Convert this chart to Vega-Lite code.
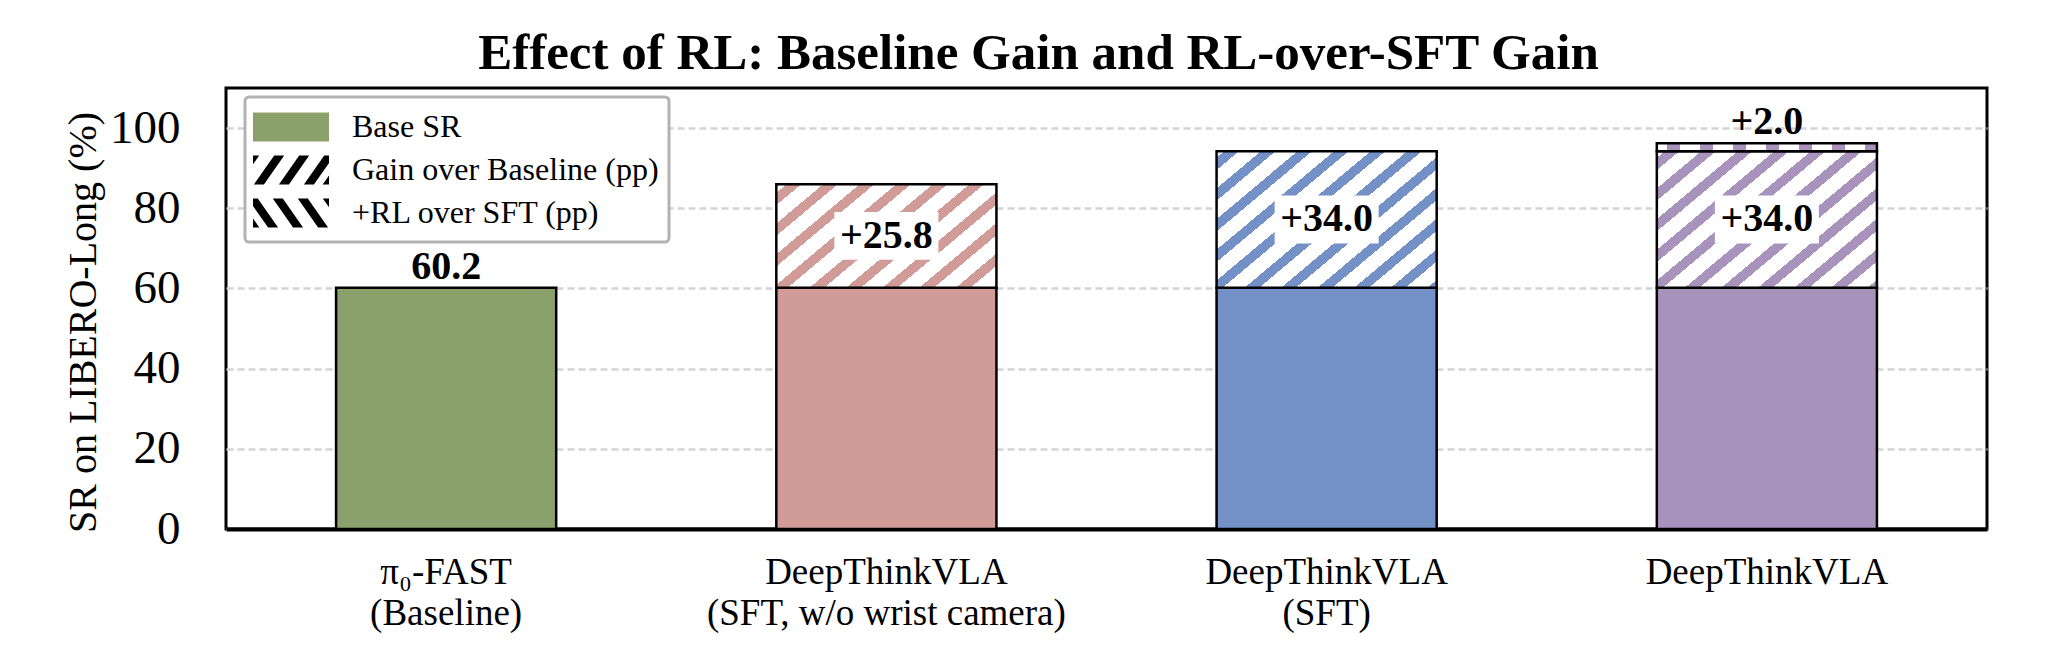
{
  "$schema": "https://vega.github.io/schema/vega-lite/v6.json",
  "autosize": {"type": "none"},
  "padding": {"left": 226, "top": 88, "right": 61, "bottom": 129},
  "width": 1761,
  "height": 441,
  "background": "white",
  "title": {
    "text": "Effect of RL: Baseline Gain and RL-over-SFT Gain",
    "font": "Liberation Serif",
    "fontSize": 51,
    "fontWeight": "bold",
    "color": "black",
    "anchor": "middle",
    "frame": "group",
    "dx": -68,
    "offset": 8
  },
  "data": {
    "values": [
      {"model": "π₀-FAST (Baseline)", "segment": "Base SR", "start": 0, "end": 60.2, "label": "60.2"},
      {"model": "DeepThinkVLA (SFT, w/o wrist camera)", "segment": "Base SR", "start": 0, "end": 60.2},
      {"model": "DeepThinkVLA (SFT, w/o wrist camera)", "segment": "Gain over Baseline (pp)", "start": 60.2, "end": 86.0, "label": "+25.8"},
      {"model": "DeepThinkVLA (SFT)", "segment": "Base SR", "start": 0, "end": 60.2},
      {"model": "DeepThinkVLA (SFT)", "segment": "Gain over Baseline (pp)", "start": 60.2, "end": 94.2, "label": "+34.0"},
      {"model": "DeepThinkVLA", "segment": "Base SR", "start": 0, "end": 60.2},
      {"model": "DeepThinkVLA", "segment": "Gain over Baseline (pp)", "start": 60.2, "end": 94.2, "label": "+34.0"},
      {"model": "DeepThinkVLA", "segment": "+RL over SFT (pp)", "start": 94.2, "end": 96.2, "label": "+2.0"}
    ]
  },
  "encoding": {
    "x": {
      "field": "model",
      "type": "nominal",
      "title": null,
      "sort": ["π₀-FAST (Baseline)", "DeepThinkVLA (SFT, w/o wrist camera)", "DeepThinkVLA (SFT)", "DeepThinkVLA"],
      "scale": {"paddingInner": 0.5, "paddingOuter": 0.25},
      "axis": {
        "labelExpr": "datum.value == 'π₀-FAST (Baseline)' ? ['π₀-FAST', '(Baseline)'] : datum.value == 'DeepThinkVLA (SFT, w/o wrist camera)' ? ['DeepThinkVLA', '(SFT, w/o wrist camera)'] : datum.value == 'DeepThinkVLA (SFT)' ? ['DeepThinkVLA', '(SFT)'] : datum.label",
        "labelAngle": 0,
        "labelFont": "Liberation Serif",
        "labelFontSize": 37,
        "labelColor": "black",
        "labelPadding": 25,
        "labelLineHeight": 41,
        "labelLimit": 0,
        "ticks": false,
        "tickSize": 0,
        "domainColor": "black",
        "domainWidth": 4,
        "grid": false
      }
    }
  },
  "layer": [
    {
      "transform": [{"filter": "datum.segment == 'Base SR'"}],
      "mark": {"type": "bar", "stroke": "black", "strokeWidth": 2.5},
      "encoding": {
        "y": {
          "field": "start",
          "type": "quantitative",
          "title": "SR on LIBERO-Long (%)",
          "scale": {"domain": [0, 110], "nice": false},
          "axis": {
            "values": [0, 20, 40, 60, 80, 100],
            "grid": true,
            "gridColor": "#d4d4d4",
            "gridDash": [7, 4],
            "gridWidth": 2.5,
            "domain": false,
            "ticks": false,
            "tickSize": 0,
            "labelFont": "Liberation Serif",
            "labelFontSize": 47,
            "labelColor": "black",
            "labelPadding": 46,
            "titleFont": "Liberation Serif",
            "titleFontSize": 40,
            "titleFontWeight": "normal",
            "titleColor": "black",
            "titleX": -131,
            "titleY": 234,
            "titleAngle": -90,
            "titleAlign": "center",
            "titleBaseline": "alphabetic"
          }
        },
        "y2": {"field": "end"},
        "color": {
          "field": "model",
          "type": "nominal",
          "scale": {
            "domain": ["π₀-FAST (Baseline)", "DeepThinkVLA (SFT, w/o wrist camera)", "DeepThinkVLA (SFT)", "DeepThinkVLA"],
            "range": ["#8BA16C", "#D19C98", "#7391C7", "#A893BC"]
          },
          "legend": null
        }
      }
    },
    {
      "transform": [{"filter": "datum.segment == 'Gain over Baseline (pp)' && datum.model == 'DeepThinkVLA (SFT, w/o wrist camera)'"}],
      "mark": {
        "type": "bar",
        "stroke": "black",
        "strokeWidth": 2.5,
        "fill": {
          "gradient": "linear", "x1": 0, "y1": 0, "x2": 1.1875, "y2": 0.6649,
          "stops": [
            {"offset": 0, "color": "white"}, {"offset": 0.03, "color": "white"}, {"offset": 0.03, "color": "#D19C98"}, {"offset": 0.0726, "color": "#D19C98"}, {"offset": 0.0726, "color": "white"},
            {"offset": 0.1365, "color": "white"}, {"offset": 0.1365, "color": "#D19C98"}, {"offset": 0.1791, "color": "#D19C98"}, {"offset": 0.1791, "color": "white"},
            {"offset": 0.2430, "color": "white"}, {"offset": 0.2430, "color": "#D19C98"}, {"offset": 0.2856, "color": "#D19C98"}, {"offset": 0.2856, "color": "white"},
            {"offset": 0.3494, "color": "white"}, {"offset": 0.3494, "color": "#D19C98"}, {"offset": 0.3920, "color": "#D19C98"}, {"offset": 0.3920, "color": "white"},
            {"offset": 0.4559, "color": "white"}, {"offset": 0.4559, "color": "#D19C98"}, {"offset": 0.4985, "color": "#D19C98"}, {"offset": 0.4985, "color": "white"},
            {"offset": 0.5624, "color": "white"}, {"offset": 0.5624, "color": "#D19C98"}, {"offset": 0.6050, "color": "#D19C98"}, {"offset": 0.6050, "color": "white"},
            {"offset": 0.6689, "color": "white"}, {"offset": 0.6689, "color": "#D19C98"}, {"offset": 0.7115, "color": "#D19C98"}, {"offset": 0.7115, "color": "white"},
            {"offset": 0.7754, "color": "white"}, {"offset": 0.7754, "color": "#D19C98"}, {"offset": 0.8180, "color": "#D19C98"}, {"offset": 0.8180, "color": "white"},
            {"offset": 0.8818, "color": "white"}, {"offset": 0.8818, "color": "#D19C98"}, {"offset": 0.9244, "color": "#D19C98"}, {"offset": 0.9244, "color": "white"},
            {"offset": 0.9883, "color": "white"}, {"offset": 0.9883, "color": "#D19C98"}, {"offset": 1, "color": "#D19C98"}
          ]
        }
      },
      "encoding": {
        "y": {"field": "start", "type": "quantitative", "title": "SR on LIBERO-Long (%)", "scale": {"domain": [0, 110], "nice": false}},
        "y2": {"field": "end"}
      }
    },
    {
      "transform": [{"filter": "datum.segment == 'Gain over Baseline (pp)' && datum.model == 'DeepThinkVLA (SFT)'"}],
      "mark": {
        "type": "bar",
        "stroke": "black",
        "strokeWidth": 2.5,
        "fill": {
          "gradient": "linear", "x1": 0, "y1": 0, "x2": 1.1252, "y2": 0.8304,
          "stops": [
            {"offset": 0, "color": "white"}, {"offset": 0.02, "color": "white"}, {"offset": 0.02, "color": "#7391C7"}, {"offset": 0.0582, "color": "#7391C7"}, {"offset": 0.0582, "color": "white"},
            {"offset": 0.1156, "color": "white"}, {"offset": 0.1156, "color": "#7391C7"}, {"offset": 0.1538, "color": "#7391C7"}, {"offset": 0.1538, "color": "white"},
            {"offset": 0.2111, "color": "white"}, {"offset": 0.2111, "color": "#7391C7"}, {"offset": 0.2494, "color": "#7391C7"}, {"offset": 0.2494, "color": "white"},
            {"offset": 0.3067, "color": "white"}, {"offset": 0.3067, "color": "#7391C7"}, {"offset": 0.3449, "color": "#7391C7"}, {"offset": 0.3449, "color": "white"},
            {"offset": 0.4023, "color": "white"}, {"offset": 0.4023, "color": "#7391C7"}, {"offset": 0.4405, "color": "#7391C7"}, {"offset": 0.4405, "color": "white"},
            {"offset": 0.4979, "color": "white"}, {"offset": 0.4979, "color": "#7391C7"}, {"offset": 0.5361, "color": "#7391C7"}, {"offset": 0.5361, "color": "white"},
            {"offset": 0.5934, "color": "white"}, {"offset": 0.5934, "color": "#7391C7"}, {"offset": 0.6317, "color": "#7391C7"}, {"offset": 0.6317, "color": "white"},
            {"offset": 0.6890, "color": "white"}, {"offset": 0.6890, "color": "#7391C7"}, {"offset": 0.7272, "color": "#7391C7"}, {"offset": 0.7272, "color": "white"},
            {"offset": 0.7846, "color": "white"}, {"offset": 0.7846, "color": "#7391C7"}, {"offset": 0.8228, "color": "#7391C7"}, {"offset": 0.8228, "color": "white"},
            {"offset": 0.8801, "color": "white"}, {"offset": 0.8801, "color": "#7391C7"}, {"offset": 0.9184, "color": "#7391C7"}, {"offset": 0.9184, "color": "white"},
            {"offset": 0.9757, "color": "white"}, {"offset": 0.9757, "color": "#7391C7"}, {"offset": 1, "color": "#7391C7"}
          ]
        }
      },
      "encoding": {
        "y": {"field": "start", "type": "quantitative", "title": "SR on LIBERO-Long (%)", "scale": {"domain": [0, 110], "nice": false}},
        "y2": {"field": "end"}
      }
    },
    {
      "transform": [{"filter": "datum.segment == 'Gain over Baseline (pp)' && datum.model == 'DeepThinkVLA'"}],
      "mark": {
        "type": "bar",
        "stroke": "black",
        "strokeWidth": 2.5,
        "fill": {
          "gradient": "linear", "x1": 0, "y1": 0, "x2": 1.1252, "y2": 0.8304,
          "stops": [
            {"offset": 0, "color": "white"}, {"offset": 0.02, "color": "white"}, {"offset": 0.02, "color": "#A893BC"}, {"offset": 0.0582, "color": "#A893BC"}, {"offset": 0.0582, "color": "white"},
            {"offset": 0.1156, "color": "white"}, {"offset": 0.1156, "color": "#A893BC"}, {"offset": 0.1538, "color": "#A893BC"}, {"offset": 0.1538, "color": "white"},
            {"offset": 0.2111, "color": "white"}, {"offset": 0.2111, "color": "#A893BC"}, {"offset": 0.2494, "color": "#A893BC"}, {"offset": 0.2494, "color": "white"},
            {"offset": 0.3067, "color": "white"}, {"offset": 0.3067, "color": "#A893BC"}, {"offset": 0.3449, "color": "#A893BC"}, {"offset": 0.3449, "color": "white"},
            {"offset": 0.4023, "color": "white"}, {"offset": 0.4023, "color": "#A893BC"}, {"offset": 0.4405, "color": "#A893BC"}, {"offset": 0.4405, "color": "white"},
            {"offset": 0.4979, "color": "white"}, {"offset": 0.4979, "color": "#A893BC"}, {"offset": 0.5361, "color": "#A893BC"}, {"offset": 0.5361, "color": "white"},
            {"offset": 0.5934, "color": "white"}, {"offset": 0.5934, "color": "#A893BC"}, {"offset": 0.6317, "color": "#A893BC"}, {"offset": 0.6317, "color": "white"},
            {"offset": 0.6890, "color": "white"}, {"offset": 0.6890, "color": "#A893BC"}, {"offset": 0.7272, "color": "#A893BC"}, {"offset": 0.7272, "color": "white"},
            {"offset": 0.7846, "color": "white"}, {"offset": 0.7846, "color": "#A893BC"}, {"offset": 0.8228, "color": "#A893BC"}, {"offset": 0.8228, "color": "white"},
            {"offset": 0.8801, "color": "white"}, {"offset": 0.8801, "color": "#A893BC"}, {"offset": 0.9184, "color": "#A893BC"}, {"offset": 0.9184, "color": "white"},
            {"offset": 0.9757, "color": "white"}, {"offset": 0.9757, "color": "#A893BC"}, {"offset": 1, "color": "#A893BC"}
          ]
        }
      },
      "encoding": {
        "y": {"field": "start", "type": "quantitative", "title": "SR on LIBERO-Long (%)", "scale": {"domain": [0, 110], "nice": false}},
        "y2": {"field": "end"}
      }
    },
    {
      "transform": [{"filter": "datum.segment == '+RL over SFT (pp)'"}],
      "mark": {
        "type": "bar",
        "stroke": "black",
        "strokeWidth": 2.5,
        "fill": {
          "gradient": "linear", "x1": 0, "y1": 0, "x2": 1, "y2": 0,
          "stops": [
            {"offset": 0, "color": "white"}, {"offset": 0.045, "color": "white"}, {"offset": 0.045, "color": "#A893BC"}, {"offset": 0.104, "color": "#A893BC"}, {"offset": 0.104, "color": "white"},
            {"offset": 0.195, "color": "white"}, {"offset": 0.195, "color": "#A893BC"}, {"offset": 0.254, "color": "#A893BC"}, {"offset": 0.254, "color": "white"},
            {"offset": 0.345, "color": "white"}, {"offset": 0.345, "color": "#A893BC"}, {"offset": 0.404, "color": "#A893BC"}, {"offset": 0.404, "color": "white"},
            {"offset": 0.495, "color": "white"}, {"offset": 0.495, "color": "#A893BC"}, {"offset": 0.554, "color": "#A893BC"}, {"offset": 0.554, "color": "white"},
            {"offset": 0.645, "color": "white"}, {"offset": 0.645, "color": "#A893BC"}, {"offset": 0.704, "color": "#A893BC"}, {"offset": 0.704, "color": "white"},
            {"offset": 0.795, "color": "white"}, {"offset": 0.795, "color": "#A893BC"}, {"offset": 0.854, "color": "#A893BC"}, {"offset": 0.854, "color": "white"},
            {"offset": 0.945, "color": "white"}, {"offset": 0.945, "color": "#A893BC"}, {"offset": 1, "color": "#A893BC"}
          ]
        }
      },
      "encoding": {
        "y": {"field": "start", "type": "quantitative", "title": "SR on LIBERO-Long (%)", "scale": {"domain": [0, 110], "nice": false}},
        "y2": {"field": "end"}
      }
    },
    {
      "transform": [
        {"filter": "datum.segment == 'Gain over Baseline (pp)'"},
        {"fold": ["start", "end"], "as": ["bound", "v"]}
      ],
      "mark": {"type": "point", "shape": "M-1,-0.46H1V0.46H-1Z", "size": 10816, "filled": true, "color": "white", "opacity": 1, "strokeWidth": 0},
      "encoding": {
        "y": {"aggregate": "mean", "field": "v", "type": "quantitative", "title": "SR on LIBERO-Long (%)", "scale": {"domain": [0, 110], "nice": false}},
        "detail": {"field": "label", "type": "nominal"}
      }
    },
    {
      "transform": [
        {"filter": "datum.segment == 'Gain over Baseline (pp)'"},
        {"fold": ["start", "end"], "as": ["bound", "v"]}
      ],
      "mark": {"type": "text", "font": "Liberation Serif", "fontSize": 40, "fontWeight": "bold", "color": "black", "baseline": "middle", "align": "center"},
      "encoding": {
        "y": {"aggregate": "mean", "field": "v", "type": "quantitative", "title": "SR on LIBERO-Long (%)", "scale": {"domain": [0, 110], "nice": false}},
        "text": {"field": "label", "type": "nominal"}
      }
    },
    {
      "transform": [{"filter": "isValid(datum.label) && datum.segment != 'Gain over Baseline (pp)'"}],
      "mark": {"type": "text", "font": "Liberation Serif", "fontSize": 40, "fontWeight": "bold", "color": "black", "baseline": "alphabetic", "align": "center", "dy": -9},
      "encoding": {
        "y": {"field": "end", "type": "quantitative", "title": "SR on LIBERO-Long (%)", "scale": {"domain": [0, 110], "nice": false}},
        "text": {"field": "label", "type": "nominal"}
      }
    },
    {
      "mark": {"type": "point", "filled": true, "opacity": 0, "size": 1444, "stroke": "black", "strokeWidth": 2},
      "encoding": {
        "y": {"field": "end", "type": "quantitative", "title": "SR on LIBERO-Long (%)", "scale": {"domain": [0, 110], "nice": false}},
        "fill": {
          "field": "segment",
          "type": "nominal",
          "title": null,
          "scale": {
            "domain": ["Base SR", "Gain over Baseline (pp)", "+RL over SFT (pp)"],
            "range": ["#8BA16C", "black", "black"]
          },
          "legend": {"orient": "none", "legendX": 19, "legendY": 9, "labelExpr": "datum.label + ' '"}
        },
        "shape": {
          "field": "segment",
          "type": "nominal",
          "title": null,
          "scale": {
            "domain": ["Base SR", "Gain over Baseline (pp)", "+RL over SFT (pp)"],
            "range": [
              "M-2,-0.763H2V0.763H-2Z",
              "M-2,-0.763L-1.674,-0.763L-2,-0.297ZM-0.884,-0.763L-0.358,-0.763L-1.426,0.763L-1.952,0.763ZM0.432,-0.763L0.958,-0.763L-0.11,0.763L-0.636,0.763ZM1.748,-0.763L2,-0.763L2,-0.371L1.206,0.763L0.68,0.763ZM2,0.286L2,0.763L1.666,0.763Z",
              "M2,-0.763L1.674,-0.763L2,-0.297ZM0.884,-0.763L0.358,-0.763L1.426,0.763L1.952,0.763ZM-0.432,-0.763L-0.958,-0.763L0.11,0.763L0.636,0.763ZM-1.748,-0.763L-2,-0.763L-2,-0.371L-1.206,0.763L-0.68,0.763ZM-2,0.286L-2,0.763L-1.666,0.763Z"
            ]
          },
          "legend": {"orient": "none", "legendX": 19, "legendY": 9, "labelExpr": "datum.label + ' '"}
        }
      }
    }
  ],
  "config": {
    "view": {"stroke": "black", "strokeWidth": 3},
    "font": "Liberation Serif",
    "legend": {
      "padding": 10,
      "fillColor": "white",
      "strokeColor": "#b3b3b3",
      "strokeWidth": 3,
      "cornerRadius": 4,
      "labelFont": "Liberation Serif",
      "labelFontSize": 32,
      "labelColor": "black",
      "labelLimit": 0,
      "symbolSize": 1444,
      "symbolStrokeWidth": 2,
      "symbolStrokeColor": "black",
      "symbolOpacity": 1,
      "symbolOffset": 16,
      "labelOffset": 41,
      "rowPadding": 4
    }
  }
}
